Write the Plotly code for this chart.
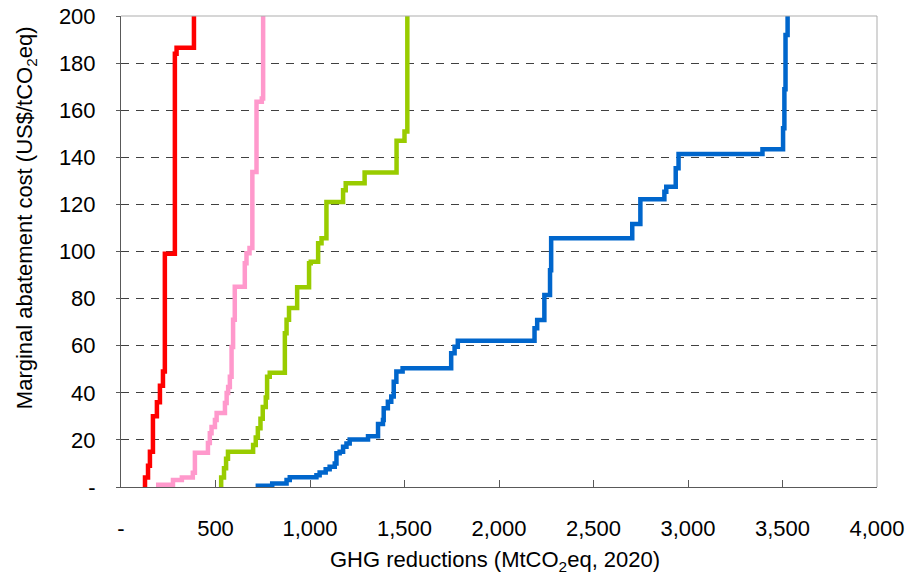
import plotly.graph_objects as go

# ---- data: cumulative GHG reductions (MtCO2eq) at the end of each cost step, and step cost (US$/tCO2eq)
red_x = [127, 143, 153, 169, 190, 206, 222, 232, 285, 294, 386, 390]
red_y = [0, 4, 9, 15, 30, 36, 43, 49, 99, 184, 186.5, 205]

pink_x = [197, 275, 322, 380, 391, 460, 470, 479, 497, 506, 550, 559, 567, 576, 585,
          593, 602, 655, 664, 680, 695, 717, 745, 752, 760]
pink_y = [0, 1, 3, 4, 6, 14.5, 18.7, 22.8, 25.5, 28.4, 31.4, 35.7, 39.9, 42.5, 46.8,
          59.5, 71, 85, 95, 99.3, 101.5, 133.8, 163.6, 165, 205]

green_x = [530, 545, 556, 566, 699, 713, 724, 738, 750, 766, 773, 787, 867, 876, 889,
           932, 995, 1004, 1043, 1061, 1087, 1175, 1189, 1289, 1458, 1500, 1515, 1525]
green_y = [0, 4, 8, 12, 15, 17.8, 21, 25, 29, 34, 38, 46.8, 48.5, 65.3, 71,
           76, 84.8, 95, 95.7, 103.5, 105.6, 121, 126, 129, 133.5, 147, 151, 205]

blue_x = [724, 800, 876, 893, 1034, 1051, 1083, 1104, 1131, 1140, 1157, 1175, 1193, 1210,
          1307, 1360, 1386, 1390, 1412, 1430, 1443, 1457, 1490, 1747, 1765, 1782, 2188,
          2202, 2240, 2270, 2276, 2705, 2748, 2875, 2885, 2935, 2950, 3394, 3503, 3510,
          3516, 3527, 3535]
blue_y = [0, 0.5, 1.5, 3, 4.1, 5, 6.2, 7.5, 8.6, 10, 14.3, 15, 17.1, 18.5,
          20.2, 21.6, 26.8, 28.4, 33.4, 36.2, 38.4, 44.7, 49, 50.4, 56.8, 59.6, 62.1,
          67.4, 70.9, 81.5, 92, 105.6, 111.7, 122.2, 125.4, 127.5, 135.3, 141.4, 143.4, 152.3,
          168.9, 191.9, 205]

x_ticks = [0, 500, 1000, 1500, 2000, 2500, 3000, 3500, 4000]
x_tick_labels = ["-", "500", "1,000", "1,500", "2,000", "2,500", "3,000", "3,500", "4,000"]
y_ticks = [0, 20, 40, 60, 80, 100, 120, 140, 160, 180, 200]
y_tick_labels = ["-", "20", "40", "60", "80", "100", "120", "140", "160", "180", "200"]

series = [
    ("Series 1", red_x, red_y, "#FF0000"),
    ("Series 2", pink_x, pink_y, "#FF99CC"),
    ("Series 3", green_x, green_y, "#99CC00"),
    ("Series 4", blue_x, blue_y, "#0066CC"),
]

FONT = "Liberation Sans, Arial, sans-serif"
AX = "#595959"

fig = go.Figure()
for name, xs, ys, col in series:
    fig.add_trace(go.Scatter(x=xs, y=ys, mode="lines", name=name,
                             line=dict(color=col, width=4.5, shape="vh")))

fig.update_layout(
    width=908, height=574,
    margin=dict(l=121, r=31, t=16, b=87, autoexpand=False),
    plot_bgcolor="white", paper_bgcolor="white",
    showlegend=False,
    font=dict(family=FONT, size=22, color="#000000"),
    xaxis=dict(range=[0, 4000], tickmode="array", tickvals=x_ticks, ticktext=x_tick_labels,
               ticks="inside", ticklen=7, tickcolor=AX, tickwidth=1,
               showline=True, linecolor=AX, linewidth=1, automargin=False,
               ticklabeloverflow="allow",
               showgrid=False, zeroline=False, ticklabelstandoff=22),
    yaxis=dict(range=[0, 200], tickmode="array", tickvals=y_ticks, ticktext=y_tick_labels,
               ticks="outside", ticklen=4, tickcolor=AX, tickwidth=1,
               showline=True, linecolor=AX, linewidth=1, automargin=False,
               ticklabeloverflow="allow",
               showgrid=True, gridcolor="#404040", gridwidth=1, griddash="8px,7px",
               zeroline=False, ticklabelstandoff=16),
    shapes=[
        dict(type="line", xref="paper", yref="paper", x0=0, x1=1, y0=1, y1=1,
             line=dict(color="#ADADAD", width=1)),
        dict(type="line", xref="paper", yref="paper", x0=1, x1=1, y0=0, y1=1,
             line=dict(color="#ADADAD", width=1)),
    ],
    annotations=[
        dict(text="GHG reductions (MtCO<sub>2</sub>eq, 2020)", xref="paper", yref="paper",
             x=0.495, y=-0.157, xanchor="center", yanchor="middle", showarrow=False,
             font=dict(family=FONT, size=22, color="#000000")),
        dict(text="Marginal abatement cost (US$/tCO<sub>2</sub>eq)", xref="paper", yref="paper",
             x=-0.1255, y=0.571, xanchor="center", yanchor="middle", showarrow=False,
             textangle=-90, font=dict(family=FONT, size=22, color="#000000")),
    ],
)

fig.write_html("out.html",
               config={"displayModeBar": False},
               post_script="document.body.style.margin='0';document.body.style.overflow='hidden';")
